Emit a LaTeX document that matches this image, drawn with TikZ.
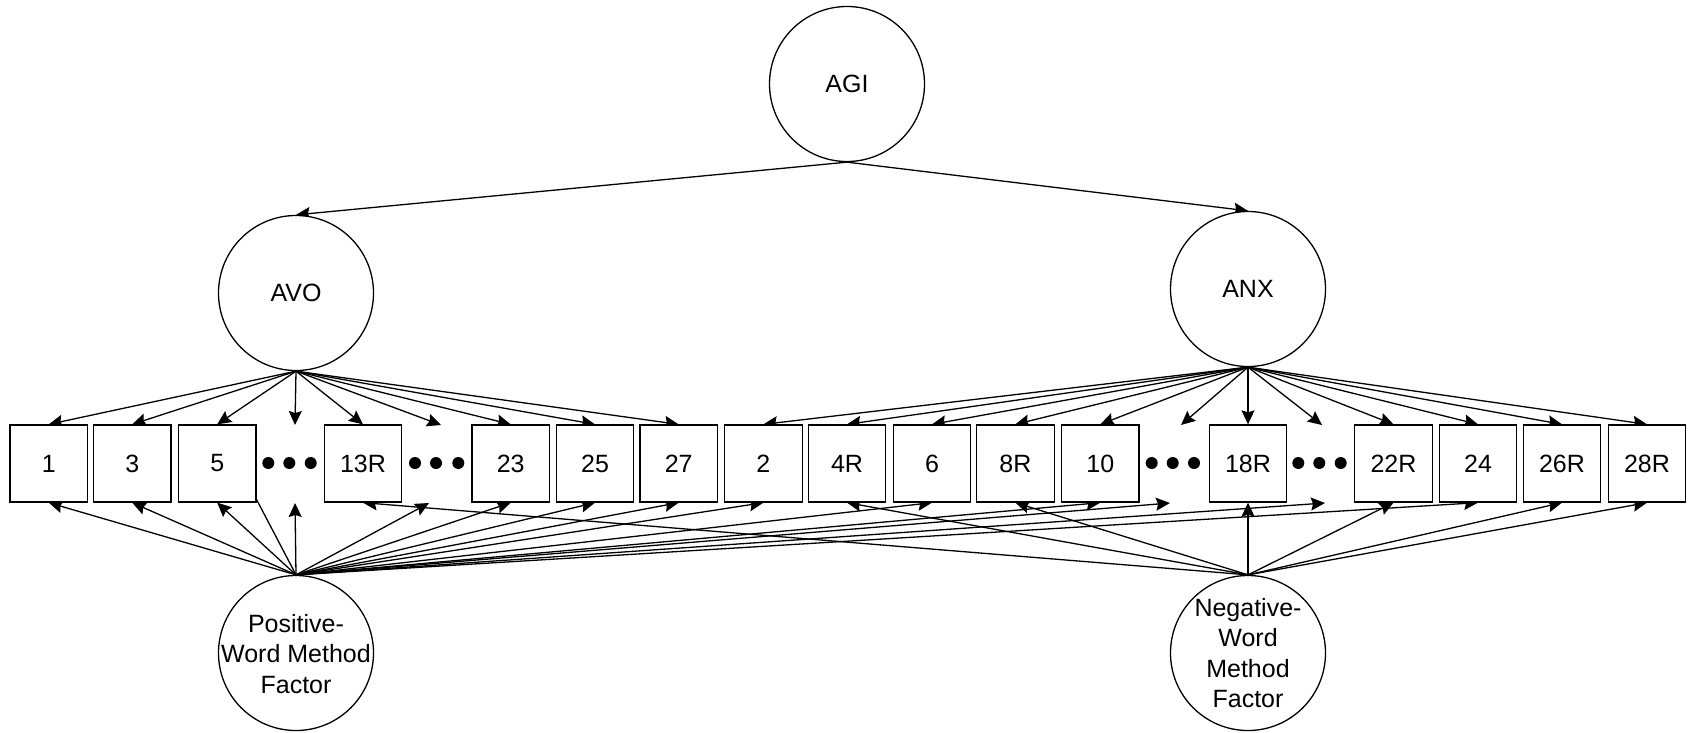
\documentclass[tikz,border=0pt]{standalone}
\usepackage{fontspec}
\setmainfont{Liberation Sans}
\usetikzlibrary{arrows.meta}
\pgfdeclarelayer{bg}
\pgfsetlayers{bg,main}
\begin{document}
\begin{tikzpicture}[x=1pt,y=-1pt,
  every node/.style={font=\fontsize{25}{30.5}\selectfont},
  latent/.style={circle,draw,fill=white,line width=1.3pt,minimum size=155pt,inner sep=0pt},
  caption/.style={align=center,inner sep=0pt},
  item/.style={rectangle,draw,fill=white,line width=1.3pt,minimum width=77.5pt,minimum height=77pt,inner sep=0pt},
  dot/.style={circle,fill=black,minimum size=12pt,inner sep=0pt},
  link/.style={line width=1.3pt,-{Stealth[length=14pt,width=13pt,inset=2pt]}},
  bare/.style={line width=1.3pt}
]
\useasboundingbox (0,0) rectangle (1688,732);

% latent factors
\node[latent] (AGI) at (847,84) {AGI};
\node[latent] (AVO) at (296,293) {AVO};
\node[latent] (ANX) at (1248,289) {ANX};
\node[latent] (PWMF) at (296,653) {};
\node[caption] (PWMFtext) at (296,654) {Positive-\\Word Method\\Factor};
\node[latent] (NWMF) at (1248,653) {};
\node[caption] (NWMFtext) at (1248,653) {Negative-\\Word\\Method\\Factor};

% observed items
\node[item] (b1)  at (48.75,463.5) {1};
\node[item] (b3)  at (132.2,463.5) {3};
\node[item] (b5)  at (217.2,463.5) {5};
\node[item] (b13) at (363,463.5) {13R};
\node[item] (b23) at (510.7,463.5) {23};
\node[item] (b25) at (595,463.5) {25};
\node[item] (b27) at (678.7,463.5) {27};
\node[item] (b2)  at (763.4,463.5) {2};
\node[item] (b4)  at (847,463.5) {4R};
\node[item] (b6)  at (932,463.5) {6};
\node[item] (b8)  at (1015.4,463.5) {8R};
\node[item] (b10) at (1100.3,463.5) {10};
\node[item] (b18) at (1248,463.5) {18R};
\node[item] (b22) at (1393.5,463.5) {22R};
\node[item] (b24) at (1478,463.5) {24};
\node[item] (b26) at (1562,463.5) {26R};
\node[item] (b28) at (1647,463.5) {28R};

% ellipses for omitted items
\node[dot] (d1a) at (268.3,463) {};
\node[dot] (d1b) at (289.3,463) {};
\node[dot] (d1c) at (310.7,463) {};
\node[dot] (d2a) at (415,463) {};
\node[dot] (d2b) at (436,463) {};
\node[dot] (d2c) at (458.3,463) {};
\node[dot] (d3a) at (1151.7,463) {};
\node[dot] (d3b) at (1172.7,463) {};
\node[dot] (d3c) at (1194,463) {};
\node[dot] (d4a) at (1298.3,463) {};
\node[dot] (d4b) at (1319.3,463) {};
\node[dot] (d4c) at (1340.7,463) {};

% loose ends of the arrows that point at the ellipses
\coordinate (d1top) at (295,425);
\coordinate (d1bot) at (295,503);
\coordinate (d2top) at (441,425);
\coordinate (d2bot) at (429,503);
\coordinate (d3top) at (1181,425);
\coordinate (d3bot) at (1170,503);
\coordinate (d4top) at (1322,425);
\coordinate (d4bot) at (1325,503);

\begin{pgfonlayer}{bg}
  % higher-order factor
  \draw[link] (AGI.south) -- (AVO.north);
  \draw[link] (AGI.south) -- (ANX.north);

  % avoidance loadings
  \foreach \t in {b1.north,b3.north,b5.north,d1top,b13.north,d2top,b23.north,b25.north,b27.north}
    \draw[link] (AVO.south) -- (\t);

  % anxiety loadings
  \foreach \t in {b2.north,b4.north,b6.north,b8.north,b10.north,d3top,b18.north,d4top,b22.north,b24.north,b26.north,b28.north}
    \draw[link] (ANX.south) -- (\t);

  % positive-word method factor
  \draw[bare] (PWMF.north) -- (b5.north);
  \foreach \t in {b1.south,b3.south,b5.south,d1bot,d2bot,b23.south,b25.south,b27.south,b2.south,b6.south,b10.south,d3bot,d4bot,b24.south}
    \draw[link] (PWMF.north) -- (\t);

  % negative-word method factor
  \foreach \t in {b13.south,b4.south,b8.south,b18.south,b22.south,b26.south,b28.south}
    \draw[link] (NWMF.north) -- (\t);
\end{pgfonlayer}
\end{tikzpicture}
\end{document}
